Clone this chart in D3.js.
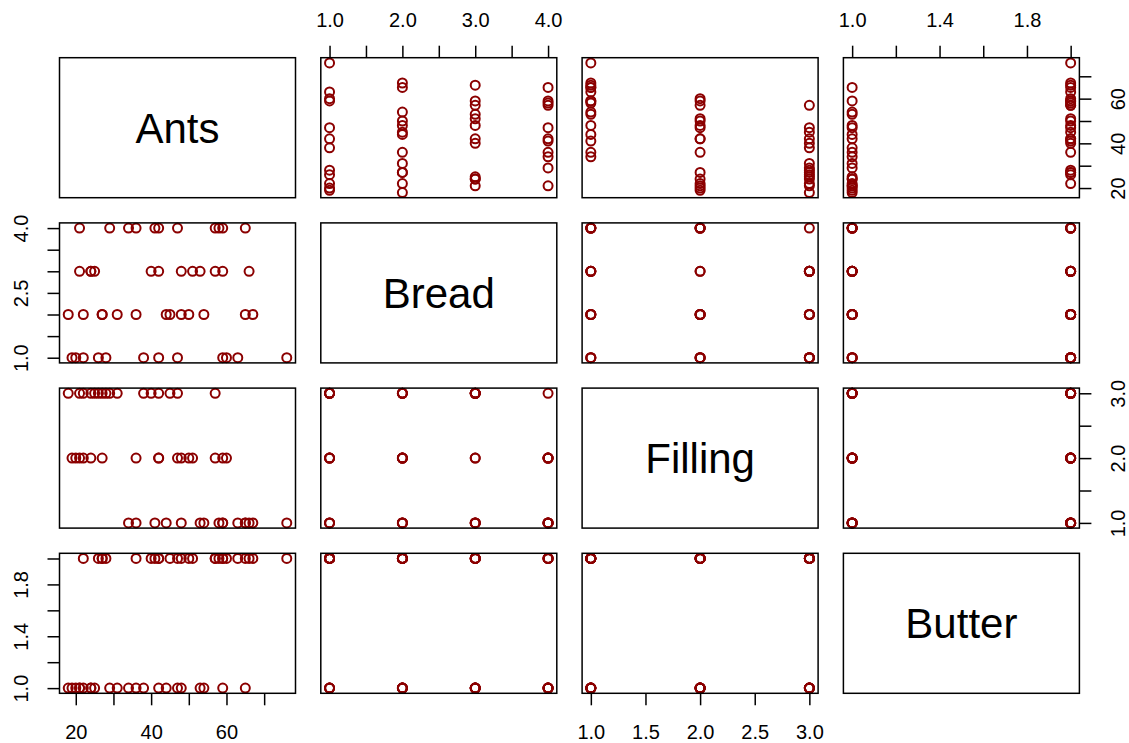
<!DOCTYPE html>
<html>
<head>
<meta charset="utf-8">
<script src="https://cdn.jsdelivr.net/npm/d3@7"></script>
<style>
  body { margin: 0; background: #fff; }
  svg { display: block; font-family: "Liberation Sans", Arial, sans-serif; }
</style>
</head>
<body>
<script>
// variable names on the diagonal
var varNames = ['Ants', 'Bread', 'Filling', 'Butter'];

// one entry per sandwich (48)
var ants    = [18, 19, 20, 21, 21, 22, 22, 24, 24, 25, 26, 27, 27, 28, 29, 31,
               34, 36, 36, 38, 40, 41, 42, 42, 42, 44, 45, 47, 47, 48, 48, 50,
               51, 53, 54, 57, 57, 58, 59, 59, 59, 60, 63, 65, 65, 66, 67, 76];
var bread   = [2, 1, 1, 3, 4, 1, 2, 3, 3, 3, 1, 2, 2, 1, 4, 2,
               4, 4, 2, 1, 3, 4, 1, 3, 4, 2, 2, 4, 1, 3, 2, 2,
               3, 3, 2, 4, 3, 4, 1, 3, 4, 1, 1, 2, 4, 3, 2, 1];
var filling = [3, 2, 2, 3, 2, 3, 2, 3, 2, 3, 3, 3, 2, 3, 3, 3,
               1, 1, 2, 3, 3, 1, 2, 3, 2, 1, 3, 2, 3, 1, 2, 2,
               2, 1, 1, 2, 3, 1, 1, 1, 2, 2, 1, 1, 1, 1, 1, 1];
var butter  = [1, 1, 1, 1, 1, 2, 1, 1, 1, 1, 2, 2, 2, 2, 1, 1,
               1, 1, 2, 1, 2, 2, 1, 2, 2, 1, 2, 1, 2, 2, 1, 2,
               2, 1, 1, 2, 2, 2, 2, 1, 2, 2, 2, 2, 1, 2, 2, 2];

// tick positions and which ones get a label, per side
var antsTicks = [20, 30, 40, 50, 60, 70];
var antsLabels = [20, 40, 60];
var breadTicks = [1, 1.5, 2, 2.5, 3, 3.5, 4];
var breadTopLabels = [1, 2, 3, 4];
var breadLeftLabels = [1, 2.5, 4];
var fillingTicks = [1, 1.5, 2, 2.5, 3];
var fillingBottomLabels = [1, 1.5, 2, 2.5, 3];
var fillingRightLabels = [1, 2, 3];
var butterTicks = [1, 1.2, 1.4, 1.6, 1.8, 2];
var butterTopLabels = [1, 1.4, 1.8];
var butterLeftLabels = [1, 1.4, 1.8];

var width = 1129, height = 743;
var leftX = 59.5, colStep = 261.3, panelW = 236;
var topY = 57.7, rowStep = 165.2, panelH = 140;
var ptColor = '#8b0000';

var columns = [ants, bread, filling, butter];

var svg = d3.select('body').append('svg')
  .attr('width', width)
  .attr('height', height);

function colX(k) { return leftX + k * colStep; }
function rowY(k) { return topY + k * rowStep; }

// R style range: data extent widened by 4%
function paddedDomain(v) {
  var e = d3.extent(v), p = (e[1] - e[0]) * 0.04;
  return [e[0] - p, e[1] + p];
}

var xs = [], ys = [];
for (var k = 0; k < 4; k++) {
  xs.push(d3.scaleLinear().domain(paddedDomain(columns[k])).range([colX(k), colX(k) + panelW]));
  ys.push(d3.scaleLinear().domain(paddedDomain(columns[k])).range([rowY(k) + panelH, rowY(k)]));
}

// panels
for (var i = 0; i < 4; i++) {
  for (var j = 0; j < 4; j++) {
    var g = svg.append('g').attr('class', 'panel r' + i + 'c' + j);
    if (i == j) {
      g.append('text')
        .attr('x', colX(j) + panelW / 2)
        .attr('y', rowY(i) + panelH / 2 + 15)
        .attr('text-anchor', 'middle')
        .attr('font-size', 42)
        .text(varNames[i]);
    } else {
      var xv = columns[j], yv = columns[i];
      g.selectAll('circle')
        .data(d3.range(ants.length))
        .enter()
        .append('circle')
        .attr('cx', function(d) { return xs[j](xv[d]); })
        .attr('cy', function(d) { return ys[i](yv[d]); })
        .attr('r', 4.5)
        .attr('fill', 'none')
        .attr('stroke', ptColor)
        .attr('stroke-width', 2);
    }
    g.append('rect')
      .attr('x', colX(j))
      .attr('y', rowY(i))
      .attr('width', panelW)
      .attr('height', panelH)
      .attr('fill', 'none')
      .attr('stroke', 'black')
      .attr('stroke-width', 1.5);
  }
}

function labeler(labels, digits) {
  return function(d) {
    return labels.indexOf(d) >= 0 ? d3.format('.' + digits + 'f')(d) : '';
  };
}

function styleAxis(sel) {
  sel.select('.domain').remove();
  sel.attr('font-family', null).attr('font-size', null);
  sel.selectAll('line').attr('stroke', 'black').attr('stroke-width', 1.5);
  sel.selectAll('text').attr('font-size', 20).attr('fill', 'black');
}

// horizontal axes: bottom under cols 0 and 2, top over cols 1 and 3
var bottomY = rowY(3) + panelH;
svg.append('g').attr('transform', 'translate(0,' + bottomY + ')')
  .call(d3.axisBottom(xs[0]).tickValues(antsTicks).tickSize(12).tickPadding(19.4)
    .tickFormat(labeler(antsLabels, 0)))
  .call(styleAxis);
svg.append('g').attr('transform', 'translate(0,' + bottomY + ')')
  .call(d3.axisBottom(xs[2]).tickValues(fillingTicks).tickSize(12).tickPadding(19.4)
    .tickFormat(labeler(fillingBottomLabels, 1)))
  .call(styleAxis);
svg.append('g').attr('transform', 'translate(0,' + rowY(0) + ')')
  .call(d3.axisTop(xs[1]).tickValues(breadTicks).tickSize(12).tickPadding(18.5)
    .tickFormat(labeler(breadTopLabels, 1)))
  .call(styleAxis);
svg.append('g').attr('transform', 'translate(0,' + rowY(0) + ')')
  .call(d3.axisTop(xs[3]).tickValues(butterTicks).tickSize(12).tickPadding(18.5)
    .tickFormat(labeler(butterTopLabels, 1)))
  .call(styleAxis);

// vertical axes: labels rotated to read upward, as R draws them
function rotateLabels(sel, base) {
  sel.selectAll('text')
    .attr('x', null)
    .attr('dy', null)
    .attr('text-anchor', 'middle')
    .attr('transform', 'translate(' + base + ',0) rotate(-90)');
}

var rightX = colX(3) + panelW;
svg.append('g').attr('transform', 'translate(' + rightX + ',0)')
  .call(d3.axisRight(ys[0]).tickValues(antsTicks).tickSize(12)
    .tickFormat(labeler(antsLabels, 0)))
  .call(styleAxis)
  .call(rotateLabels, 45.5);
svg.append('g').attr('transform', 'translate(' + rightX + ',0)')
  .call(d3.axisRight(ys[2]).tickValues(fillingTicks).tickSize(12)
    .tickFormat(labeler(fillingRightLabels, 1)))
  .call(styleAxis)
  .call(rotateLabels, 45.5);
svg.append('g').attr('transform', 'translate(' + leftX + ',0)')
  .call(d3.axisLeft(ys[1]).tickValues(breadTicks).tickSize(12)
    .tickFormat(labeler(breadLeftLabels, 1)))
  .call(styleAxis)
  .call(rotateLabels, -31.5);
svg.append('g').attr('transform', 'translate(' + leftX + ',0)')
  .call(d3.axisLeft(ys[3]).tickValues(butterTicks).tickSize(12)
    .tickFormat(labeler(butterLeftLabels, 1)))
  .call(styleAxis)
  .call(rotateLabels, -31.5);
</script>
</body>
</html>
